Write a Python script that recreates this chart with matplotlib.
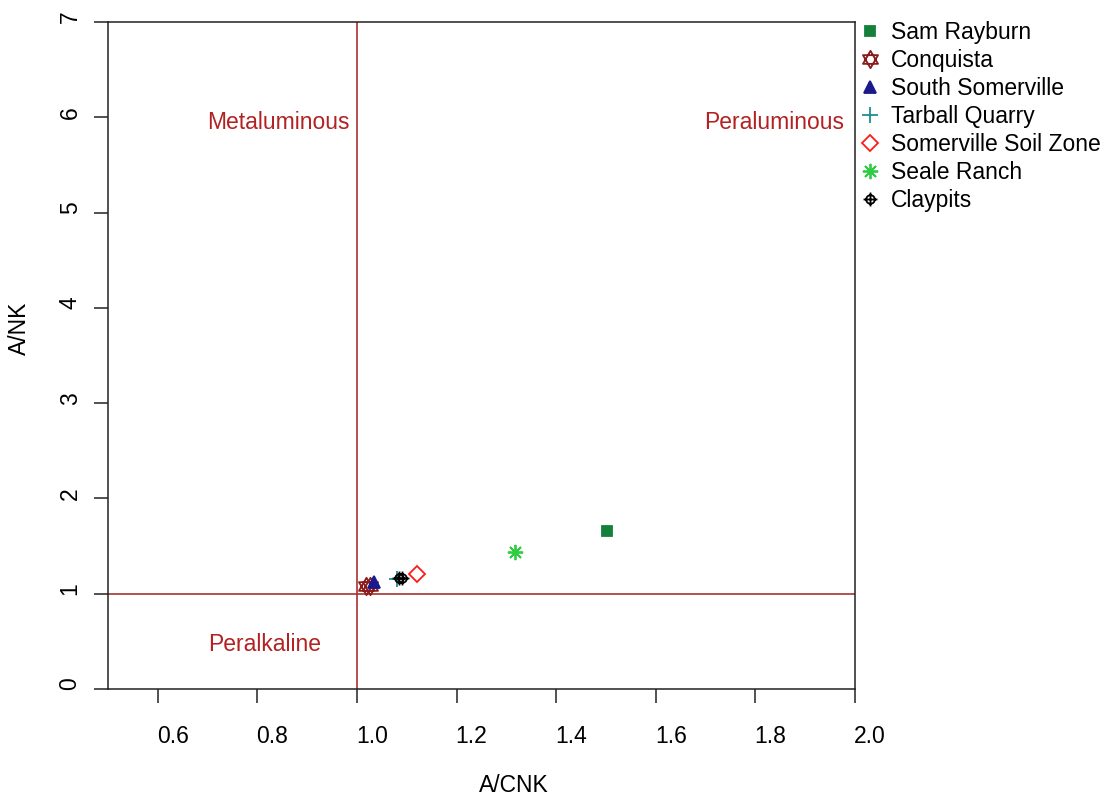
import numpy as np
import matplotlib
matplotlib.use("Agg")
import matplotlib.pyplot as plt
import matplotlib.transforms as mtransforms
from matplotlib.path import Path

plt.rcParams['font.family'] = ['Liberation Sans', 'DejaVu Sans']

# A/CNK vs A/NK for each locality
sites = ["Sam Rayburn", "Conquista", "South Somerville", "Tarball Quarry",
         "Somerville Soil Zone", "Seale Ranch", "Claypits"]
acnk = [[1.502], [1.018, 1.026], [1.034], [1.080], [1.120], [1.317], [1.085, 1.090]]
ank = [[1.658], [1.08, 1.08], [1.12], [1.155], [1.21], [1.44], [1.16, 1.16]]

xticks = [0.6, 0.8, 1.0, 1.2, 1.4, 1.6, 1.8, 2.0]
yticks = [0, 1, 2, 3, 4, 5, 6, 7]

FS = 16.5

# composite marker shapes
tri_up = Path([(0, 1), (-0.866, -0.5), (0.866, -0.5), (0, 1)],
              [Path.MOVETO, Path.LINETO, Path.LINETO, Path.CLOSEPOLY])
tri_dn = Path([(0, -1), (-0.866, 0.5), (0.866, 0.5), (0, -1)],
              [Path.MOVETO, Path.LINETO, Path.LINETO, Path.CLOSEPOLY])
hexagram = Path.make_compound_path(tri_up, tri_dn)
circ = Path.circle((0, 0), 0.62)
cross = Path([(-1, 0), (1, 0), (0, -1), (0, 1)],
             [Path.MOVETO, Path.LINETO, Path.MOVETO, Path.LINETO])
circle_plus = Path.make_compound_path(circ, cross)

styles = [
    dict(marker='s', color='#14803a', ms=7.5, fill=True),
    dict(marker=hexagram, color='#8b1a1a', ms=12.5, fill=False),
    dict(marker='^', color='#1a1a8c', ms=9, fill=True),
    dict(marker='+', color='#1a9090', ms=12, fill=False),
    dict(marker='D', color='#ff1a1a', ms=8, fill=False),
    dict(marker=(8, 2, 0), color='#2ecc40', ms=11, fill=False),
    dict(marker=circle_plus, color='black', ms=10, fill=False),
]

fig = plt.figure(figsize=(11.14, 7.98), dpi=100)
ax = fig.add_axes([108 / 1114, 1 - 689 / 798, 747 / 1114, 667 / 798])

for name, xs, ys, st in zip(sites, acnk, ank, styles):
    ax.plot(xs, ys, linestyle='none', marker=st['marker'], ms=st['ms'],
            color=st['color'], mec=st['color'],
            mfc=st['color'] if st['fill'] else 'none',
            mew=1.3, label=name, zorder=3)

ax.axvline(1.0, color='#a83232', lw=1.2, zorder=1)
ax.axhline(1.0, color='#a83232', lw=1.2, zorder=1)

txtc = '#b22222'
ax.text(0.843, 5.95, "Metaluminous", color=txtc, fontsize=FS, ha='center', va='center')
ax.text(1.838, 5.95, "Peraluminous", color=txtc, fontsize=FS, ha='center', va='center')
ax.text(0.815, 0.47, "Peralkaline", color=txtc, fontsize=FS, ha='center', va='center')

ax.set_xlim(0.5, 2.0)
ax.set_ylim(0, 7)
ax.set_xticks(xticks)
ax.set_xticklabels([f"{v:.1f}" for v in xticks])
ax.set_yticks(yticks)
ax.set_yticklabels([str(v) for v in yticks], rotation=90, va='center')
ax.tick_params(axis='both', direction='out', length=10, width=1.1,
               labelsize=FS, color='#222222')
ax.tick_params(axis='x', pad=16)
ax.tick_params(axis='y', pad=9)
for sp in ax.spines.values():
    sp.set_linewidth(1.1)
    sp.set_color('#222222')

# shift tick labels a little
dx = mtransforms.ScaledTranslation(15 / 100, 0, fig.dpi_scale_trans)
for lab in ax.get_xticklabels():
    lab.set_transform(lab.get_transform() + dx)
dy = mtransforms.ScaledTranslation(0, 5 / 100, fig.dpi_scale_trans)
for lab in ax.get_yticklabels():
    lab.set_transform(lab.get_transform() + dy)

fig.text(514 / 1114, 1 - 785 / 798, "A/CNK", fontsize=FS, ha='center', va='center')
fig.text(19 / 1114, 1 - 328 / 798, "A/NK", fontsize=FS, ha='center', va='center',
         rotation=90)

ax.legend(loc='upper left', bbox_to_anchor=(859 / 1114, 1 - 21 / 798),
          bbox_transform=fig.transFigure, frameon=False, fontsize=FS,
          handlelength=1.0, handletextpad=0.4, labelspacing=0.22,
          borderaxespad=0, borderpad=0, markerscale=1.0)

fig.savefig("out.png", dpi=100)
